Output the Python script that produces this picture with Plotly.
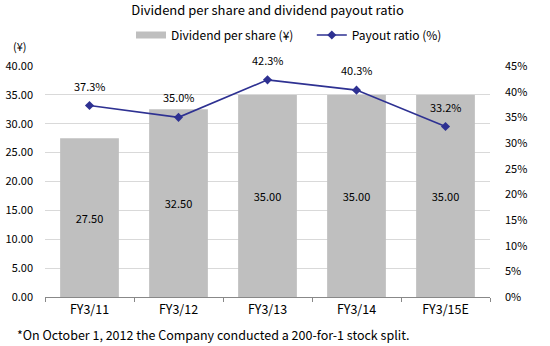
import plotly.graph_objects as go

categories = ["FY3/11", "FY3/12", "FY3/13", "FY3/14", "FY3/15E"]
dividend = [27.50, 32.50, 35.00, 35.00, 35.00]
payout = [37.3, 35.0, 42.3, 40.3, 33.2]
left_ticks = [0, 5, 10, 15, 20, 25, 30, 35, 40]
right_ticks = [0, 5, 10, 15, 20, 25, 30, 35, 40, 45]

FONT = "Noto Sans CJK JP, DejaVu Sans, sans-serif"
LINE = "#2e3192"
BAR = "#bfbfbf"

# plot area in pixels
L, R, T, B = 45, 490, 66, 297
W, H = R - L, B - T

def px(x):
    return (x - L) / W

def py(y):
    return (B - y) / H

fig = go.Figure()
fig.add_trace(go.Bar(
    x=categories, y=dividend, name="Dividend per share (¥)", showlegend=False,
    marker=dict(color=BAR, line=dict(width=0)),
    text=[f"{v:.2f}" for v in dividend], textposition="inside",
    insidetextanchor="middle", textfont=dict(size=11, color="#000000", family=FONT),
    yaxis="y"))
# legend proxy for the bar series (wide swatch)
fig.add_trace(go.Scatter(
    x=[None], y=[None], name="Dividend per share (¥)" + "\u00a0" * 5, mode="lines",
    line=dict(color=BAR, width=7), yaxis="y"))
fig.add_trace(go.Scatter(
    x=categories, y=payout, name="Payout ratio (%)", mode="lines+markers",
    line=dict(color=LINE, width=1.6),
    marker=dict(symbol="diamond", size=7, color=LINE),
    yaxis="y2"))

for c, p in zip(categories, payout):
    fig.add_annotation(x=c, y=p, yref="y2", text=f"{p:.1f}%", showarrow=False,
                       yshift=20, font=dict(size=11, color="#000000", family=FONT))

fig.add_annotation(x=px(20), y=py(46), xref="paper", yref="paper", text="(¥)",
                   showarrow=False, xanchor="center", yanchor="middle",
                   font=dict(size=11, color="#000000", family=FONT))

fig.add_annotation(x=px(15), y=py(334), xref="paper", yref="paper",
                   xanchor="left", yanchor="middle", showarrow=False,
                   text="*On October 1, 2012 the Company conducted a 200-for-1 stock split.",
                   font=dict(size=12.5, family=FONT, color="#000000"))

fig.update_layout(
    width=550, height=346,
    margin=dict(l=L, r=550 - R, t=T, b=346 - B),
    paper_bgcolor="white", plot_bgcolor="white",
    font=dict(family=FONT, size=11, color="#000000"),
    title=dict(text="Dividend per share and dividend payout ratio", x=0.5, xanchor="center",
               y=1 - 10 / 346, yanchor="middle", xref="paper",
               font=dict(size=13, family=FONT, color="#000000")),
    bargap=0.34,
    showlegend=True,
    legend=dict(orientation="h", x=px(131), xanchor="left", y=py(35), yanchor="middle",
                font=dict(size=12, family=FONT), itemwidth=30, tracegroupgap=0,
                bgcolor="rgba(0,0,0,0)"),
    xaxis=dict(showline=True, linecolor="#888888", linewidth=1, ticks="outside",
               tickson="boundaries", ticklen=4, tickcolor="#888888", automargin=False,
               tickfont=dict(size=12.5, family=FONT), ticklabelstandoff=1),
    yaxis=dict(range=[0, 40], tickvals=left_ticks, ticktext=[f"{v:.2f}" for v in left_ticks],
               showgrid=True, gridcolor="#d9d9d9", gridwidth=1, zeroline=False, automargin=False,
               showline=False, tickfont=dict(size=11, family=FONT), ticklabelstandoff=11),
    yaxis2=dict(range=[0, 45], tickvals=right_ticks, ticktext=[f"{v}%" for v in right_ticks],
                overlaying="y", side="right", showgrid=False, zeroline=False, showline=False,
                automargin=False, tickfont=dict(size=11, family=FONT), ticklabelstandoff=14),
)

fig.write_html("out.html")
